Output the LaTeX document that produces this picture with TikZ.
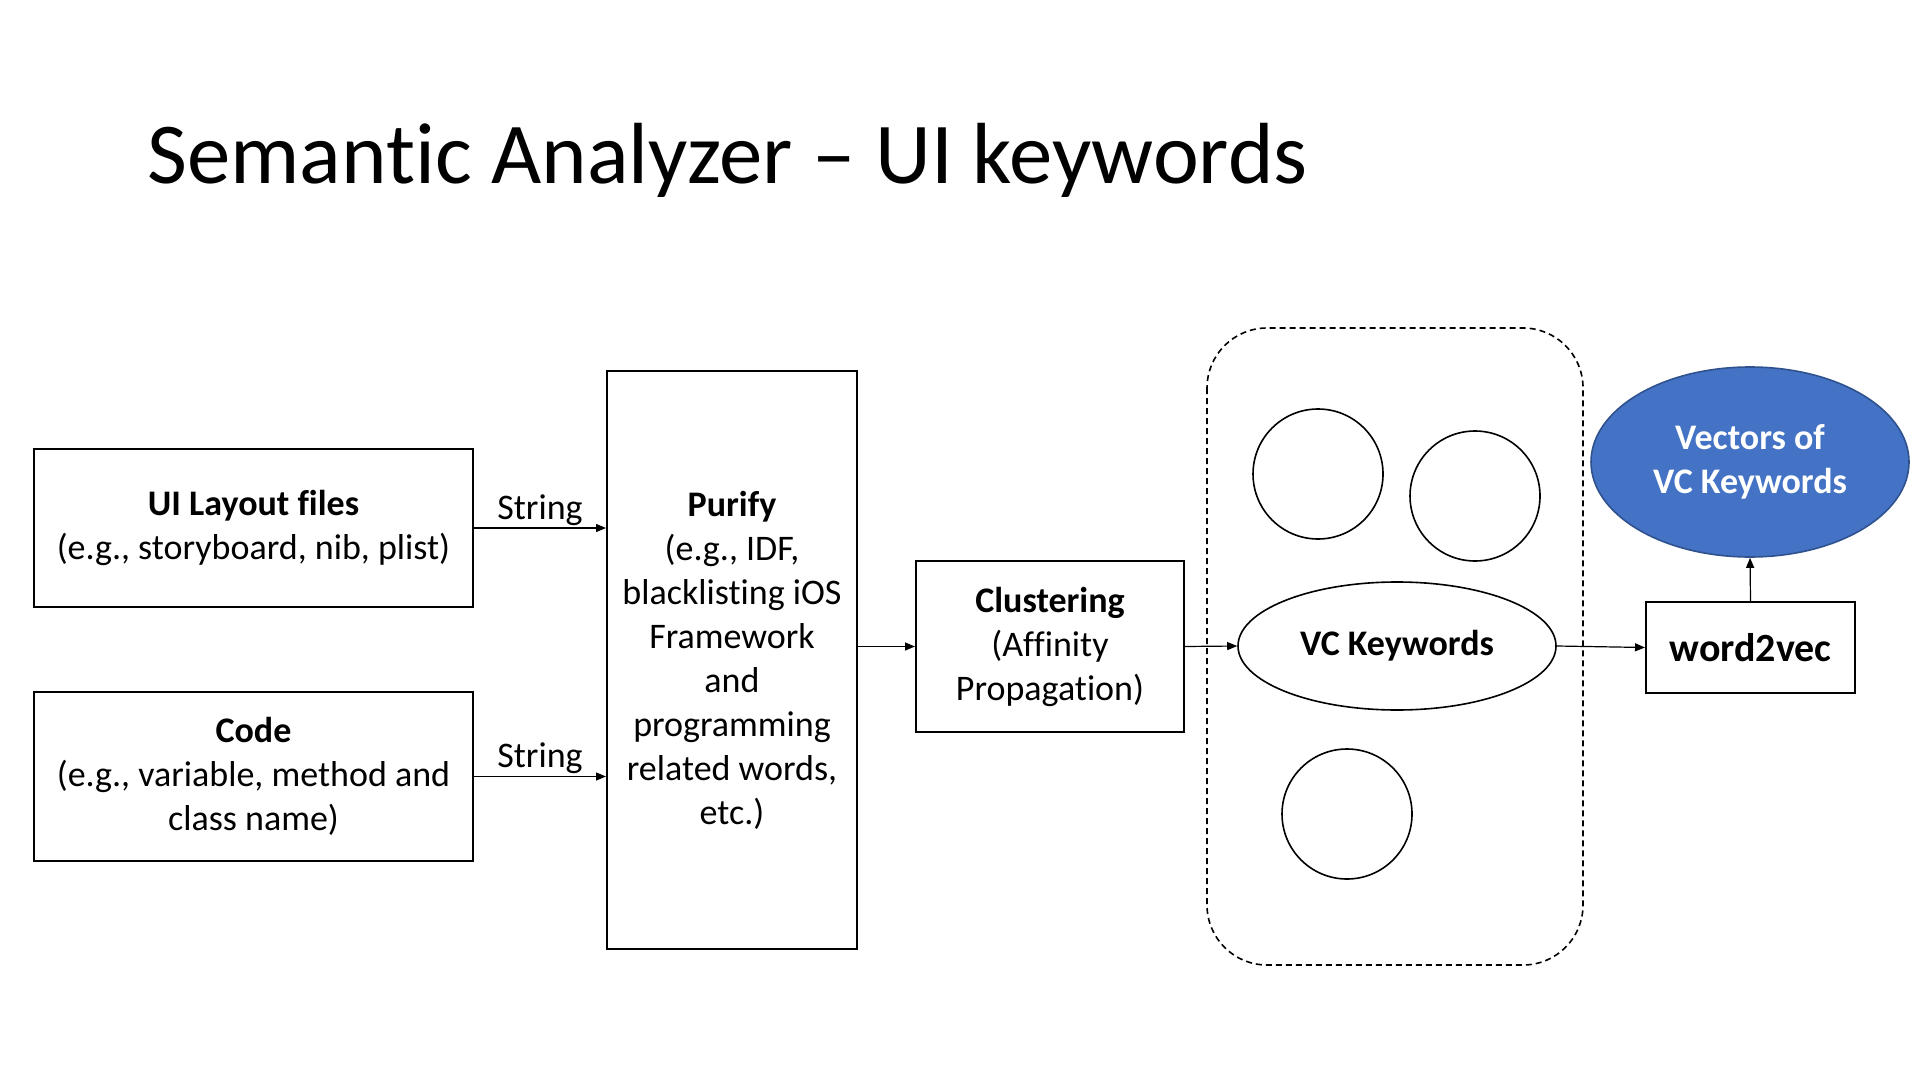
\documentclass[tikz,border=0pt]{standalone}
\usepackage{fontspec}
\setmainfont{Carlito}[Ligatures={NoCommon}]
\usetikzlibrary{arrows.meta,shapes.geometric}
\definecolor{officeblue}{HTML}{4472C4}
\definecolor{officeblueedge}{HTML}{2F528F}
\begin{document}
\begin{tikzpicture}[x=0.5pt,y=-0.5pt,
  box/.style={draw,line width=1pt,align=center,inner sep=2pt,
    font=\fontsize{18}{22}\selectfont},
  ell/.style={draw,ellipse,line width=0.8pt,inner sep=0pt,align=center,
    font=\fontsize{18}{22}\selectfont\bfseries},
  circ/.style={draw,circle,line width=0.8pt,minimum size=65pt,inner sep=0pt},
  arr/.style={line width=0.6pt,-{Triangle[length=5pt,width=4pt]}},
  lab/.style={font=\fontsize{18}{22}\selectfont,inner sep=1pt}]
\useasboundingbox (0,0) rectangle (1920,1080);
\node[anchor=base west,inner sep=0pt,font=\fontsize{43.4}{52}\selectfont] (title) at (147,184) {Semantic Analyzer – UI keywords};
\node[box,minimum width=219.5pt,minimum height=79pt] (ui) at (253.5,528) {\textbf{UI Layout files}\\(e.g., storyboard, nib, plist)};
\node[box,minimum width=219.5pt,minimum height=84.5pt] (code) at (253.5,776.5) {\textbf{Code}\\(e.g., variable, method and\\class name)};
\node[box,minimum width=125pt,minimum height=289pt] (purify) at (732,660) {\textbf{Purify}\\(e.g., IDF,\\blacklisting iOS\\Framework\\and\\programming\\related words,\\etc.)};
\node[box,minimum width=134pt,minimum height=85.5pt] (clust) at (1050,646.5) {\textbf{Clustering}\\(Affinity\\Propagation)};
\draw[dashed,line width=0.8pt,dash pattern=on 3pt off 2pt,rounded corners=30pt] (1207,328) rectangle (1583,965);
\node[circ] (c1) at (1318,474) {};
\node[circ] (c2) at (1475,496) {};
\node[circ] (c3) at (1347,814) {};
\node[ell,minimum width=159pt,minimum height=64pt] (vc) at (1397,646) {VC Keywords};
\node[box,minimum width=104.5pt,minimum height=45.5pt,font=\fontsize{20}{24}\selectfont\bfseries] (w2v) at (1750.5,647.5) {word2vec};
\node[ell,fill=officeblue,draw=officeblueedge,text=white,minimum width=159pt,minimum height=95pt] (vec) at (1750,462) {Vectors of\\VC Keywords};
\draw[arr] (ui.east) -- node[lab,above] {String} (ui.east -| purify.west);
\draw[arr] (code.east) -- node[lab,above] {String} (code.east -| purify.west);
\draw[arr] (purify.east |- clust.west) -- (clust.west);
\draw[arr] (clust.east) -- (vc.west);
\draw[arr] (vc.east) -- (w2v.west);
\draw[arr] (w2v.north) -- (vec.south);
\end{tikzpicture}
\end{document}
